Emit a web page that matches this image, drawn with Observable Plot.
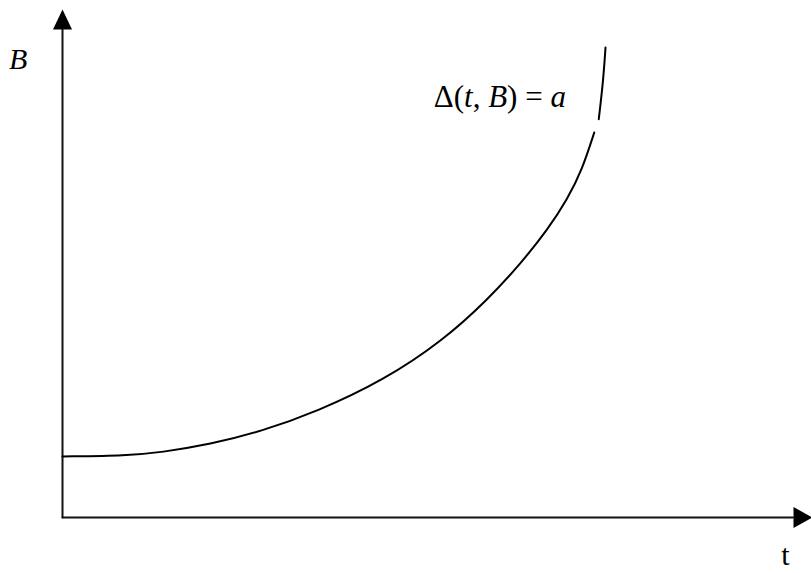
<!DOCTYPE html>
<html>
<head>
<meta charset="utf-8">
<script src="https://cdn.jsdelivr.net/npm/d3@7"></script>
<script src="https://cdn.jsdelivr.net/npm/@observablehq/plot@0.6"></script>
<style>
  html, body { margin: 0; padding: 0; background: #fff; }
</style>
</head>
<body>
<div id="chart"></div>
<script>
// Curve Δ(t, B) = a (drawn in two pieces around the label gap)
const lowerT = [0, 8.7, 13.1, 19.7, 26.4, 34.0, 42.8, 50.7, 56.7, 61.1, 64.7, 67.3, 69.3, 70.9];
const lowerB = [12.0, 12.2, 12.8, 14.4, 16.9, 20.9, 27.0, 34.8, 42.9, 50.0, 56.7, 62.6, 68.5, 75.8];
const upperT = [71.5, 72.1, 72.4];
const upperB = [78.4, 86.0, 92.5];

// Axes (with arrow tips at the ends)
const axisXEnd = 97.4;   // end of the t-axis line (arrow base)
const axisYEnd = 96.0;   // end of the B-axis line (arrow base)
const tipX = 100;        // t-axis arrow tip
const tipY = 100;        // B-axis arrow tip

// Labels
const labelText = ["B", "t", "Δ(t, B) = a"];
const labelT = [-5.9, 96.4, 49.5];
const labelB = [90.1, -7.5, 82.8];
const labelAnchor = ["middle", "middle", "start"];
const labelStyle = ["italic", "normal", "normal"];
const labelSize = [30, 30, 31];

const curve = [
  ...lowerT.map((t, i) => ({t, B: lowerB[i], seg: "lower"})),
  ...upperT.map((t, i) => ({t, B: upperB[i], seg: "upper"}))
];
const labels = labelText.map((text, i) => ({text, t: labelT[i], B: labelB[i], anchor: labelAnchor[i], style: labelStyle[i], size: labelSize[i]}));

// arrowhead symbols: tip at the origin
const arrowUp = { draw(ctx) { ctx.moveTo(0, 0); ctx.lineTo(9.5, 20); ctx.lineTo(-9.5, 20); ctx.closePath(); } };
const arrowRight = { draw(ctx) { ctx.moveTo(0, 0); ctx.lineTo(-19, -10.5); ctx.lineTo(-19, 10.5); ctx.closePath(); } };

const serif = "'Liberation Serif', 'Times New Roman', serif";

const chart = Plot.plot({
  width: 811,
  height: 573,
  margin: 0,
  x: {domain: [0, 100], range: [62, 812], axis: null},
  y: {domain: [0, 100], range: [517, 9], axis: null},
  marks: [
    Plot.lineY([{t: 0, B: 0}, {t: 0, B: axisYEnd}], {x: "t", y: "B", stroke: "#111", strokeWidth: 2}),
    Plot.lineY([{t: 0, B: 0}, {t: axisXEnd, B: 0}], {x: "t", y: "B", stroke: "#111", strokeWidth: 2}),
    Plot.dot([{t: 0, B: tipY}], {x: "t", y: "B", symbol: arrowUp, fill: "#000", stroke: "none", r: 5}),
    Plot.dot([{t: tipX, B: 0}], {x: "t", y: "B", symbol: arrowRight, fill: "#000", stroke: "none", r: 5}),
    Plot.line(curve, {x: "t", y: "B", z: "seg", stroke: "#000", strokeWidth: 2, curve: "basis"}),
    ...labels.map(d => Plot.text([d], {
      x: "t", y: "B", text: "text", textAnchor: d.anchor, lineAnchor: "middle",
      fontFamily: serif, fontSize: d.size, fontStyle: d.style, fill: "#000"
    }))
  ]
});
document.getElementById("chart").appendChild(chart);

// set the math letters of the equation in italics
d3.select(chart).selectAll("text").each(function() {
  if (this.textContent === "Δ(t, B) = a") {
    const parts = [["Δ(", "normal"], ["t", "italic"], [", ", "normal"], ["B", "italic"], [") = ", "normal"], ["a", "italic"]];
    const el = d3.select(this);
    el.text(null);
    parts.forEach(([s, st]) => el.append("tspan").attr("font-style", st).text(s));
  }
});
</script>
</body>
</html>
